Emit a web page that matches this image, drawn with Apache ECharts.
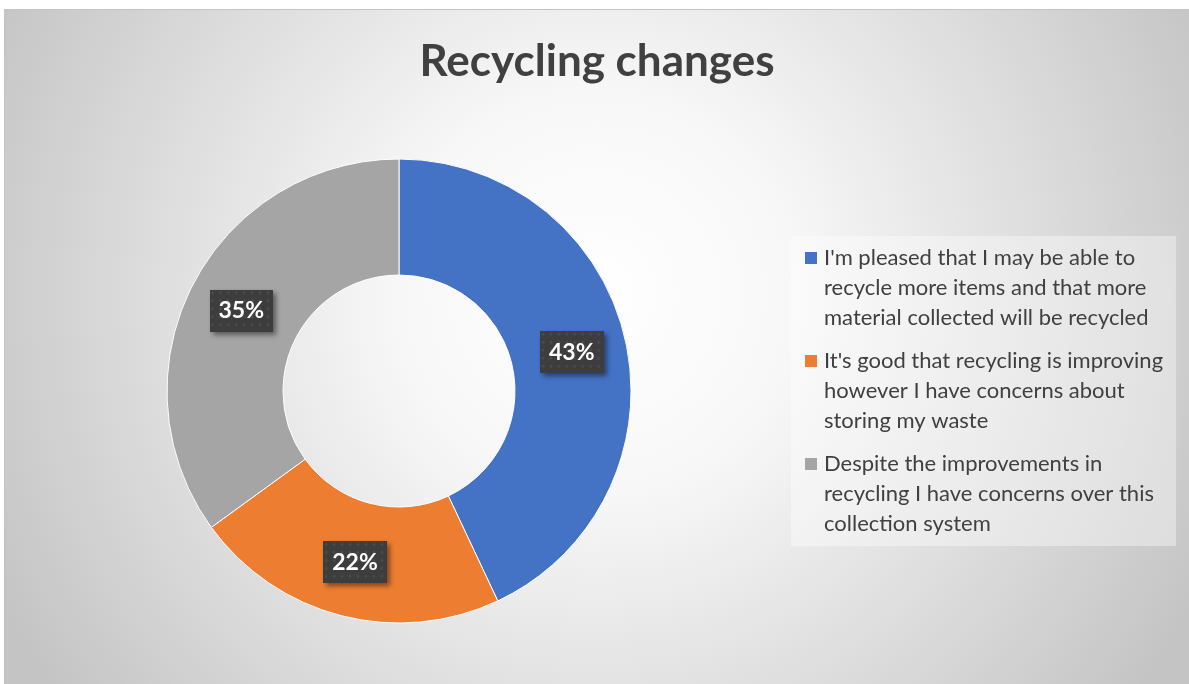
<!DOCTYPE html>
<html>
<head>
<meta charset="utf-8">
<script src="https://cdn.jsdelivr.net/npm/echarts@6/dist/echarts.min.js"></script>
<style>
  html, body { margin: 0; padding: 0; background: #fff; }
  #chart { position: absolute; left: 4px; top: 9px; width: 1185px; height: 675px;
           border-top: 1px solid #c4c4c4; border-left: 1px solid #c4c4c4; box-sizing: border-box; }
</style>
</head>
<body>
<div id="chart"></div>
<script>
// 数据
var legendLines = [
    ["I'm pleased that I may be able to", 'recycle more items and that more', 'material collected will be recycled'],
    ["It's good that recycling is improving", 'however I have concerns about', 'storing my waste'],
    ['Despite the improvements in', 'recycling I have concerns over this', 'collection system']
];
var categories = legendLines.map(function (l) { return l.join(' '); });
var shares = [43, 22, 35];
var sliceColors = ['#4472c4', '#ed7d31', '#a5a5a5'];

// 标签背景的点状纹理
function dotPattern() {
    var c = document.createElement('canvas');
    c.width = 64; c.height = 42;
    var ctx = c.getContext('2d');
    ctx.fillStyle = '#3d3d3d';
    ctx.fillRect(0, 0, 64, 42);
    ctx.fillStyle = '#4d4d4d';
    for (var x = 3; x < 64; x += 8) {
        for (var y = 3; y < 42; y += 8) {
            ctx.beginPath(); ctx.arc(x, y, 1.4, 0, Math.PI * 2); ctx.fill();
        }
    }
    return c;
}

var myChart = echarts.init(document.getElementById('chart'), null, { renderer: 'canvas' });

var rich = {
    t: { fontFamily: 'Lato', fontSize: 22, color: '#404040', lineHeight: 30, padding: [0, 0, 0, 7] },
    c: { fontFamily: 'Lato', fontSize: 22, color: '#404040', lineHeight: 30, padding: [0, 0, 0, 19] }
};
sliceColors.forEach(function (col, i) {
    rich['m' + i] = { width: 12, height: 12, backgroundColor: col, verticalAlign: 'middle' };
});

var option = {
    backgroundColor: {
        type: 'radial', x: 0.5, y: 0.42, r: 1.0,
        colorStops: [
            { offset: 0, color: '#ffffff' },
            { offset: 0.3, color: '#f7f7f7' },
            { offset: 0.7, color: '#dadada' },
            { offset: 1, color: '#c4c4c4' }
        ]
    },
    title: {
        text: 'Recycling changes',
        left: 'center',
        top: 25,
        textStyle: { fontFamily: 'Lato', fontWeight: 'bold', fontSize: 44, color: '#404040' }
    },
    legend: {
        orient: 'vertical',
        left: 786,
        top: 226,
        padding: [11, 13, 11, 8],
        itemGap: 21,
        itemWidth: 0,
        itemHeight: 0,
        backgroundColor: 'rgba(255,255,255,0.38)',
        data: categories,
        formatter: function (name) {
            var i = categories.indexOf(name);
            var lines = legendLines[i];
            var out = '{m' + i + '|}{t|' + lines[0] + '}';
            for (var k = 1; k < lines.length; k++) out += '\n{c|' + lines[k] + '}';
            return out;
        },
        textStyle: { rich: rich }
    },
    series: [{
        type: 'pie',
        center: [394, 381],
        radius: [116, 232],
        startAngle: 90,
        clockwise: true,
        avoidLabelOverlap: false,
        itemStyle: { borderColor: '#ffffff', borderWidth: 1 },
        emphasis: { scale: false },
        label: {
            show: true,
            position: 'inside',
            formatter: function (p) { return p.value + '%'; },
            fontFamily: 'Lato',
            fontWeight: 'bold',
            fontSize: 23,
            color: '#ffffff',
            backgroundColor: { image: dotPattern() },
            padding: [10, 9, 9, 9],
            shadowColor: 'rgba(0,0,0,0.45)',
            shadowBlur: 5,
            shadowOffsetX: 3,
            shadowOffsetY: 3
        },
        labelLine: { show: false },
        data: categories.map(function (name, i) {
            return { name: name, value: shares[i], itemStyle: { color: sliceColors[i] } };
        })
    }]
};

myChart.setOption(option);
window.addEventListener('resize', function () { myChart.resize(); });
</script>
</body>
</html>
